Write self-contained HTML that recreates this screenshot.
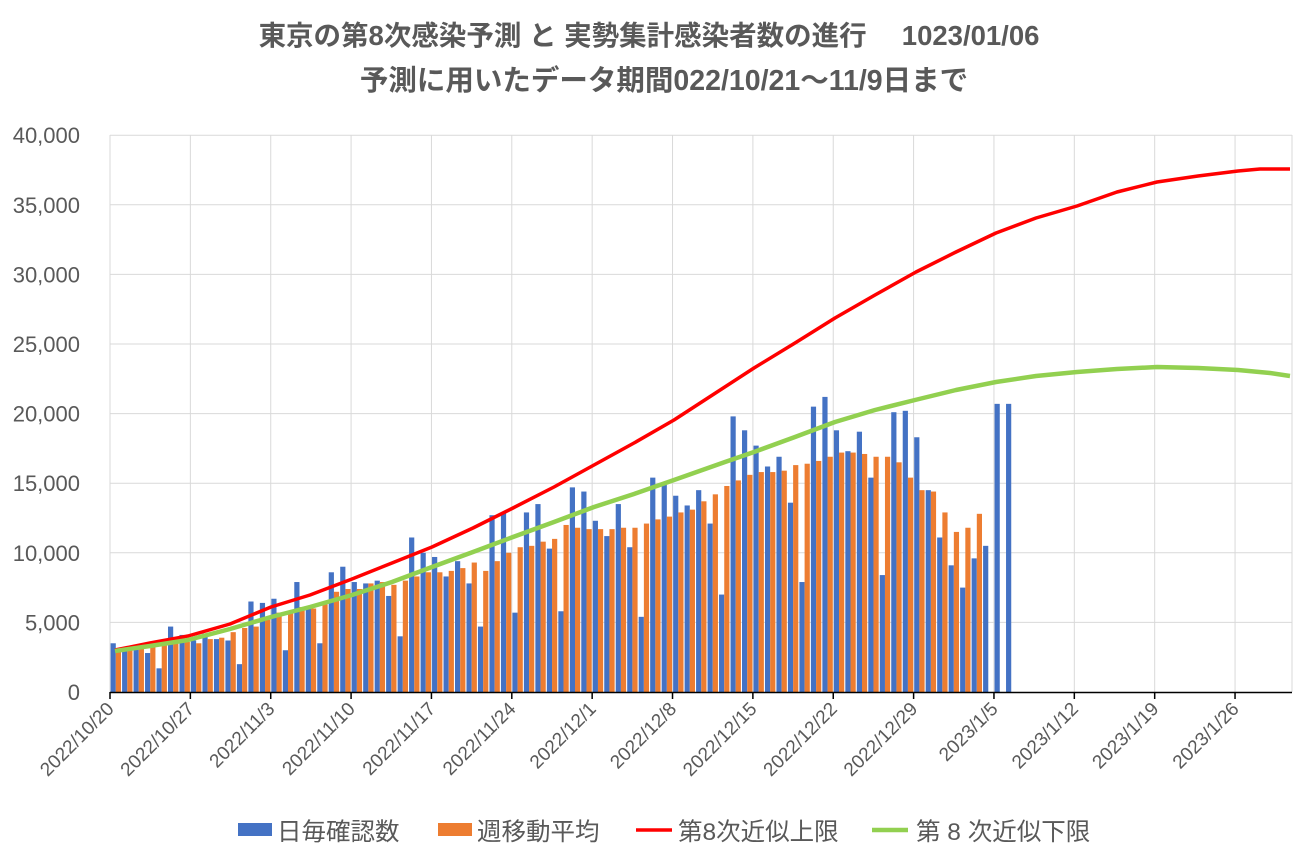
<!DOCTYPE html>
<html><head><meta charset="utf-8"><style>
body{margin:0;background:#fff;}
svg{display:block;font-family:"Liberation Sans","Noto Sans CJK JP",sans-serif;}
</style></head><body>
<svg id="s" width="1304" height="850" xmlns="http://www.w3.org/2000/svg">
<rect width="1304" height="850" fill="#fff"/>
<text x="649" y="45" text-anchor="middle" font-size="27.5" font-weight="bold" fill="#595959">東京の第8次感染予測 と 実勢集計感染者数の進行　 1023/01/06</text>
<text x="664" y="90" text-anchor="middle" font-size="28.5" font-weight="bold" fill="#595959">予測に用いたデータ期間022/10/21～11/9日まで</text>
<g id="grid"></g>
<g id="bars"></g>
<polyline fill="none" stroke="#ff0000" stroke-width="3.5" stroke-linejoin="round" points="115,650 150,643 188,636 230,624 271,607 310,595 352,579 392,563 432,547 473,528 513,508 554,487 594,465 634,443 674,420 714,394 754,368 795,343 835,318 875,295 916,272 956,252 996,233 1036,218 1077,206 1117,192 1157,182 1198,176 1238,171 1260,169 1290,169"/>
<polyline fill="none" stroke="#92d050" stroke-width="4.5" stroke-linejoin="round" points="115,651 150,646 188,640 230,629 271,617 310,607 352,595 392,582 432,567 473,552 513,537 554,522 594,507 634,494 674,480 725,462 754,452 795,437 835,422 875,410 915,400 956,390 996,382 1036,376 1077,372 1117,369 1157,367 1198,368 1238,370 1270,373 1290,376"/>
<line x1="110" y1="692.5" x2="1292" y2="692.5" stroke="#000" stroke-width="1.5"/>
<g id="lab" font-size="22" fill="#595959" text-anchor="end"></g>
<g id="xl" font-size="19" fill="#595959" text-anchor="end"></g>
<g font-size="24.5" fill="#595959">
<rect x="238" y="823" width="34" height="13" fill="#4472c4"/><text x="277" y="840">日毎確認数</text>
<rect x="438" y="823" width="34" height="13" fill="#ed7d31"/><text x="477" y="840">週移動平均</text>
<line x1="636" y1="830" x2="672" y2="830" stroke="#ff0000" stroke-width="3.5"/><text x="678" y="840">第8次近似上限</text>
<line x1="872" y1="830" x2="908" y2="830" stroke="#92d050" stroke-width="4.5"/><text x="916" y="840">第 8 次近似下限</text>
</g>
</svg>
<script>
var NS="http://www.w3.org/2000/svg";
function el(p,t,a,tx){var e=document.createElementNS(NS,t);for(var k in a)e.setAttribute(k,a[k]);if(tx)e.textContent=tx;document.getElementById(p).appendChild(e);}
var y0=692,sc=69.6/5000;
for(var i=0;i<=8;i++){var y=y0-i*69.6;if(i>0)el("grid","line",{x1:110,x2:1292,y1:y,y2:y,stroke:"#d9d9d9","stroke-width":1});
el("lab","text",{x:80,y:y+8},(i*5000).toLocaleString("en-US"));}
var dw=11.48;
var dates=["2022/10/20","2022/10/27","2022/11/3","2022/11/10","2022/11/17","2022/11/24","2022/12/1","2022/12/8","2022/12/15","2022/12/22","2022/12/29","2023/1/5","2023/1/12","2023/1/19","2023/1/26"];
for(var j=0;j<15;j++){var x=110+j*7*dw;
el("grid","line",{x1:x,x2:x,y1:135,y2:692,stroke:"#d9d9d9","stroke-width":1});
el("grid","line",{x1:x,x2:x,y1:692,y2:699,stroke:"#000","stroke-width":1.5});
el("xl","text",{x:x+5,y:710,transform:"rotate(-45 "+(x+5)+" 710)"},dates[j]);}
el("grid","line",{x1:1292,x2:1292,y1:135,y2:692,stroke:"#d9d9d9","stroke-width":1});
var B=[3500,3000,3200,2800,1700,4700,4100,3700,4200,3800,3700,2000,6500,6400,6700,3000,7900,6100,3500,8600,9000,7900,7800,8000,6900,4000,11100,10000,9700,8300,9400,7800,4700,12700,12900,5700,12900,13500,10300,5800,14700,14400,12300,11200,13500,10400,5400,15400,15000,14100,13400,14500,12100,7000,19800,18800,17700,16200,16900,13600,7900,20500,21200,18800,17300,18700,15400,8400,20100,20200,18300,14500,11100,9100,7500,9600,10500,20700,20700];
var O=[3000,3200,3300,3300,3400,3500,3600,3500,3800,3900,4300,4600,4700,5200,5700,5800,6100,6000,6300,7200,7400,7400,7800,7900,7700,8000,8300,8600,8600,8700,8900,9300,8700,9400,10000,10400,10500,10800,11000,12000,11800,11700,11700,11700,11800,11800,12100,12400,12600,12900,13100,13700,14200,14800,15200,15600,15800,15800,15900,16300,16400,16600,16900,17200,17200,17100,16900,16900,16500,15400,14500,14400,12900,11500,11800,12800];
for(var d=0;d<B.length;d++){var x0=110+d*dw;var h=B[d]*sc;
el("bars","rect",{x:x0+0.6,y:y0-h,width:5.2,height:h,fill:"#4472c4"});
if(d<O.length){h=O[d]*sc;el("bars","rect",{x:x0+5.8,y:y0-h,width:5.2,height:h,fill:"#ed7d31"});}}
</script>
</body></html>
